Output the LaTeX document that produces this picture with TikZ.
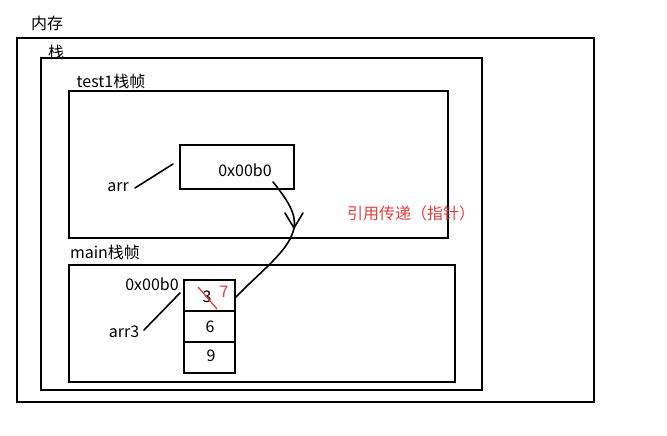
\documentclass[tikz,border=0pt]{standalone}
\usepackage{fontspec}
\setmainfont{Noto Sans CJK SC}
\usetikzlibrary{arrows.meta}
\definecolor{redtxt}{RGB}{228,60,60}
\begin{document}
\begin{tikzpicture}[x=1pt,y=-1pt,
  box/.style={draw,line width=2pt},
  cell/.style={draw,line width=1.6pt,minimum width=51pt,minimum height=31pt,inner sep=0pt,anchor=north west},
  lbl/.style={font=\fontsize{16}{18}\selectfont,inner sep=0pt},
  ptr/.style={line width=1.6pt,line cap=round,line join=round}]
\useasboundingbox (0,0) rectangle (667,436);
\draw[box] (17,38) rectangle (594,402);
\draw[box] (41,58) rectangle (482,390);
\draw[box] (69,91) rectangle (448,238);
\draw[box] (69,265) rectangle (455,382);
\node[lbl] (mem) at (47,23) {内存};
\node[lbl] (stk) at (56,52) {栈};
\node[lbl] (t1) at (111,81) {test1栈帧};
\node[lbl] (mn) at (105,252) {main栈帧};
\node[draw,line width=1.8pt,minimum width=114pt,minimum height=44pt,inner sep=0pt,anchor=north west] (pbox) at (179,144) {};
\node[lbl] (pval) at (245,170) {0x00b0};
\node[lbl] (arr) at (118,187) {arr};
\node[cell] (c1) at (183,279) {};
\node[cell] (c2) at (183,310) {};
\node[cell] (c3) at (183,341) {};
\node[lbl] (v3) at (207,297) {3};
\node[lbl,text=redtxt] (v7) at (224,292) {7};
\node[lbl] (v6) at (210,327) {6};
\node[lbl] (v9) at (211,356) {9};
\node[lbl] (addr) at (152,284) {0x00b0};
\node[lbl] (arr3) at (124,332) {arr3};
\node[lbl,text=redtxt] (note) at (411,213) {引用传递（指针）};
\coordinate (s1) at (198,287);
\coordinate (s2) at (217,309);
\draw[redtxt,line width=1.3pt] (s1) -- (s2);
\coordinate (a1) at (135,188);
\coordinate (a2) at (173,164);
\draw[ptr] (a1) -- (a2);
\coordinate (b1) at (144,330);
\coordinate (b2) at (180,293);
\draw[ptr] (b1) -- (b2);
\coordinate (p0) at (273,182);
\coordinate (tip) at (294,228);
\coordinate (p2) at (235,298);
\coordinate (h1) at (285,213);
\coordinate (h2) at (303,213);
\draw[ptr] (p0) .. controls (286,198) and (297,214) .. (tip);
\draw[ptr] (h1) -- (tip) -- (h2);
\draw[ptr] (tip) .. controls (290,250) and (262,270) .. (p2);
\end{tikzpicture}
\end{document}
